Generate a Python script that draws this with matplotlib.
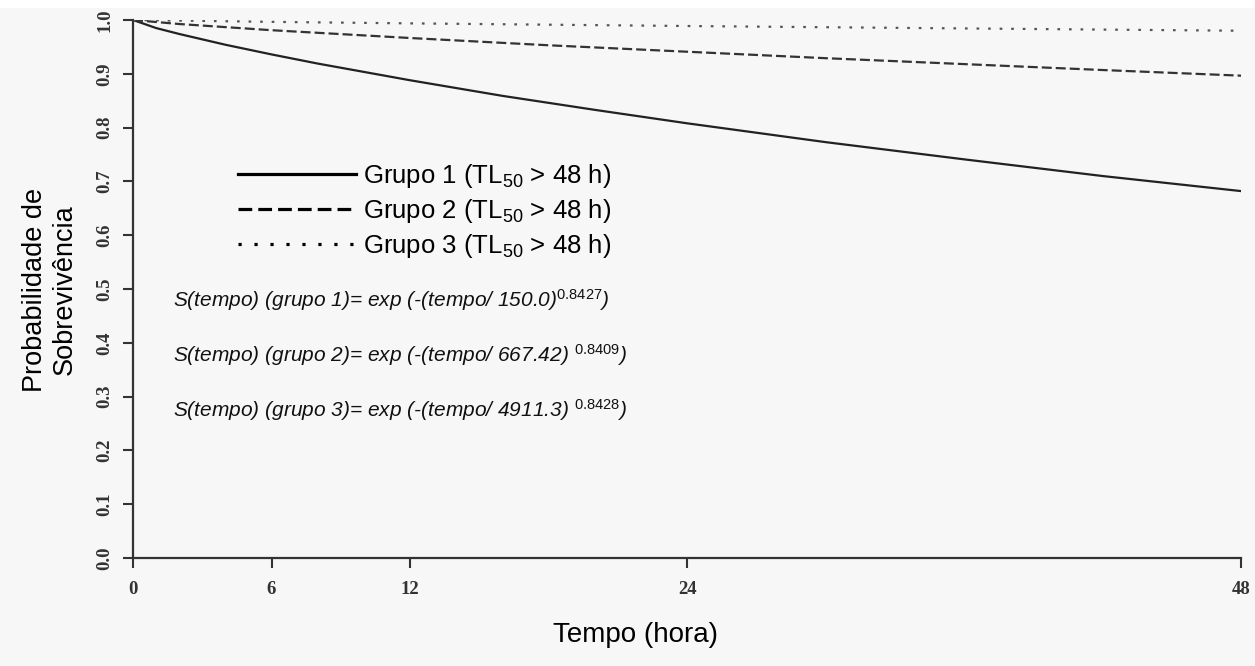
import matplotlib
matplotlib.use("Agg")
import matplotlib.pyplot as plt
from matplotlib.lines import Line2D
from matplotlib.patches import Rectangle

plt.rcParams['mathtext.fontset'] = 'custom'
plt.rcParams['mathtext.rm'] = 'Liberation Sans'
plt.rcParams['mathtext.it'] = 'Liberation Sans:italic'

# Data
t_g1 = [0, 1, 2, 3, 4, 6, 8, 12, 16, 20, 24, 30, 36, 42, 48]
s_g1 = [1.0, 0.985, 0.974, 0.964, 0.954, 0.936, 0.919, 0.888, 0.859, 0.833, 0.808, 0.773, 0.741, 0.710, 0.682]
t_g2 = [0, 2, 6, 12, 18, 24, 30, 36, 42, 48]
s_g2 = [1.0, 0.9925, 0.981, 0.9665, 0.953, 0.941, 0.929, 0.918, 0.907, 0.8965]
t_g3 = [0, 6, 12, 24, 36, 48]
s_g3 = [1.0, 0.9965, 0.9937, 0.9888, 0.9843, 0.980]

x_ticks = [0, 6, 12, 24, 48]
y_ticks = [0.0, 0.1, 0.2, 0.3, 0.4, 0.5, 0.6, 0.7, 0.8, 0.9, 1.0]
legend_labels = [r"Grupo 1 (TL$_{50}$ > 48 h)", r"Grupo 2 (TL$_{50}$ > 48 h)", r"Grupo 3 (TL$_{50}$ > 48 h)"]
formulas = [
    r"S(tempo) (grupo 1)= exp (-(tempo/ 150.0)$^{\mathit{0.8427}}$)",
    r"S(tempo) (grupo 2)= exp (-(tempo/ 667.42) $^{\mathit{0.8409}}$)",
    r"S(tempo) (grupo 3)= exp (-(tempo/ 4911.3) $^{\mathit{0.8428}}$)",
]

bg = '#f7f7f7'
fig = plt.figure(figsize=(12.55, 6.66), dpi=100, facecolor=bg)
fig.patches.append(Rectangle((0, 1 - 8 / 666), 1, 8 / 666, transform=fig.transFigure,
                             facecolor='white', edgecolor='none', zorder=0))
ax = fig.add_axes([0.106, 0.162, 0.883, 0.808], facecolor=bg)

ax.plot(t_g1, s_g1, color='#222222', lw=1.6, solid_capstyle='butt')
ax.plot(t_g2, s_g2, color='#333333', lw=1.6, dashes=(4.5, 1.8))
ax.plot(t_g3, s_g3, color='#555555', lw=1.6, dashes=(1.2, 4.0))

ax.set_xlim(0, 48)
ax.set_ylim(0, 1)
ax.set_xticks(x_ticks)
ax.set_xticklabels([str(v) for v in x_ticks])
ax.set_yticks(y_ticks)
ax.set_yticklabels([f"{v:.1f}" for v in y_ticks], rotation=90, va='center')

for side in ['top', 'right']:
    ax.spines[side].set_visible(False)
for side in ['left', 'bottom']:
    ax.spines[side].set_linewidth(1.6)
    ax.spines[side].set_color('#333333')
ax.tick_params(axis='both', direction='out', length=7.2, width=1.5, color='#333333')
ax.tick_params(axis='x', pad=9)
ax.tick_params(axis='y', pad=7)
for lab in ax.get_xticklabels() + ax.get_yticklabels():
    lab.set_fontfamily('Liberation Serif')
    lab.set_fontweight('bold')
    lab.set_fontsize(13.5)
    lab.set_color('#333333')

handles = [
    Line2D([], [], color='black', lw=2.3),
    Line2D([], [], color='black', lw=2.3, dashes=(4.3, 1.9)),
    Line2D([], [], color='black', lw=2.3, dashes=(1.0, 4.0)),
]
leg = ax.legend(handles, legend_labels, loc='upper left', bbox_to_anchor=(0.0857, 0.756),
                frameon=False, handlelength=4.6, handletextpad=0.25, labelspacing=0.29,
                borderaxespad=0, prop={'family': 'Liberation Sans', 'size': 18.5})

for i, f in enumerate(formulas):
    ax.text(0.036, 0.4796 - i * 0.1023, f, transform=ax.transAxes, fontsize=15,
            family='Liberation Sans', style='italic', va='center', ha='left', color='#111111')

fig.text(0.040, 0.565, "Probabilidade de\nSobrevivência", rotation=90, ha='center', va='center',
         fontsize=19.5, family='Liberation Sans', linespacing=1.2)
fig.text(0.506, 0.047, "Tempo (hora)", ha='center', va='center', fontsize=20, family='Liberation Sans')

fig.savefig('out.png', dpi=100, facecolor=bg)
